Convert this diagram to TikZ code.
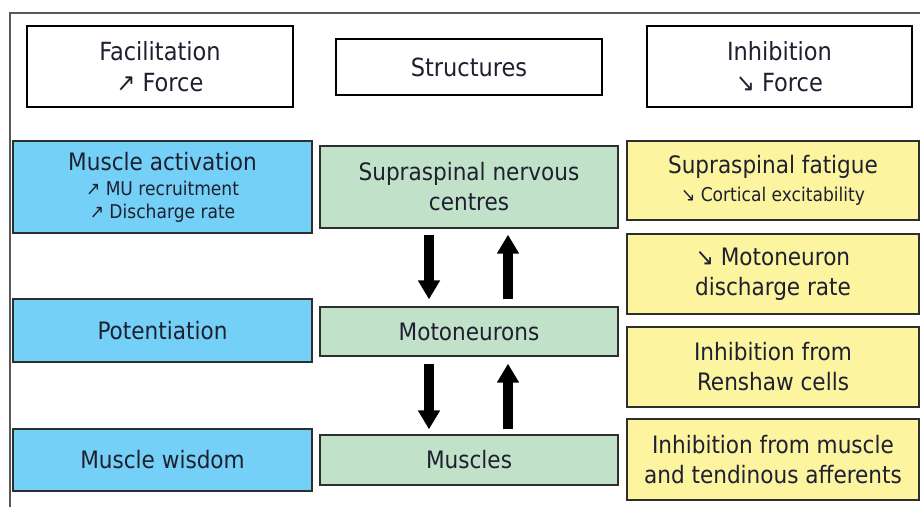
\documentclass[tikz,border=0pt]{standalone}
\usepackage{fontspec}
\setmainfont{DejaVu Sans Condensed}
\usetikzlibrary{arrows.meta,calc}
\definecolor{fblue}{HTML}{74D0F6}
\definecolor{sgreen}{HTML}{C1E1C9}
\definecolor{iyellow}{HTML}{FCF49F}
\definecolor{tcol}{HTML}{1E2030}
\definecolor{bcol}{HTML}{2E2E2E}
\newcommand{\smalltxt}{\fontsize{19}{23}\selectfont}
\tikzset{
  hdr/.style={draw=black,line width=2.6pt,fill=white,align=center,inner sep=0pt,text=tcol,font=\fontsize{25}{31}\selectfont},
  cbox/.style={draw=bcol,line width=1.3pt,align=center,inner sep=0pt,text=tcol,font=\fontsize{24}{30}\selectfont},
  bluebox/.style={cbox,fill=fblue},
  greenbox/.style={cbox,fill=sgreen},
  yelbox/.style={cbox,fill=iyellow},
  bigarrow/.style={line width=10pt,-{Triangle[width=21pt,length=19pt]},black}
}
\begin{document}
\begin{tikzpicture}[x=1pt,y=-1pt]
\useasboundingbox (0,0) rectangle (920,507);
\draw[draw=black!65,line width=1.3pt] (10,507) -- (10,13) -- (922,13);
% headers
\node[hdr,minimum width=266pt,minimum height=81pt] (fac) at (160,66.5) {Facilitation\\\symbol{"2197} Force};
\node[hdr,minimum width=266pt,minimum height=56pt] (str) at (469,67) {Structures};
\node[hdr,minimum width=265pt,minimum height=81pt] (inh) at (779.5,66.5) {Inhibition\\\symbol{"2198} Force};
% left column
\node[bluebox,minimum width=299pt,minimum height=92pt] (act) at (162.5,187) {Muscle activation\\[-5pt]{\smalltxt \symbol{"2197} MU recruitment}\\[-7pt]{\smalltxt \symbol{"2197} Discharge rate}};
\node[bluebox,minimum width=299pt,minimum height=63pt] (pot) at (162.5,330.5) {Potentiation};
\node[bluebox,minimum width=299pt,minimum height=62pt] (wis) at (162.5,460) {Muscle wisdom};
% middle column
\node[greenbox,minimum width=298pt,minimum height=82pt] (sup) at (469,187) {Supraspinal nervous\\centres};
\node[greenbox,minimum width=298pt,minimum height=49pt] (mot) at (469,331.5) {Motoneurons};
\node[greenbox,minimum width=298pt,minimum height=50pt] (mus) at (469,460) {Muscles};
% right column
\node[yelbox,minimum width=292pt,minimum height=79pt] (fat) at (773,180.5) {Supraspinal fatigue\\[-2pt]{\smalltxt \symbol{"2198} Cortical excitability}};
\node[yelbox,minimum width=292pt,minimum height=80pt] (mdr) at (773,274) {\symbol{"2198} Motoneuron\\discharge rate};
\node[yelbox,minimum width=292pt,minimum height=80pt] (ren) at (773,367) {Inhibition from\\Renshaw cells};
\node[yelbox,minimum width=292pt,minimum height=81pt] (aff) at (773,459.5) {Inhibition from muscle\\and tendinous afferents};
% arrows
\draw[bigarrow,shorten <=6pt,shorten >=7pt] ($(sup.south)+(-40,0)$) -- ($(mot.north)+(-40,0)$);
\draw[bigarrow,shorten <=7pt,shorten >=6pt] ($(mot.north)+(39,0)$) -- ($(sup.south)+(39,0)$);
\draw[bigarrow,shorten <=7pt,shorten >=5pt] ($(mot.south)+(-40,0)$) -- ($(mus.north)+(-40,0)$);
\draw[bigarrow,shorten <=5pt,shorten >=7pt] ($(mus.north)+(39,0)$) -- ($(mot.south)+(39,0)$);
\end{tikzpicture}
\end{document}
